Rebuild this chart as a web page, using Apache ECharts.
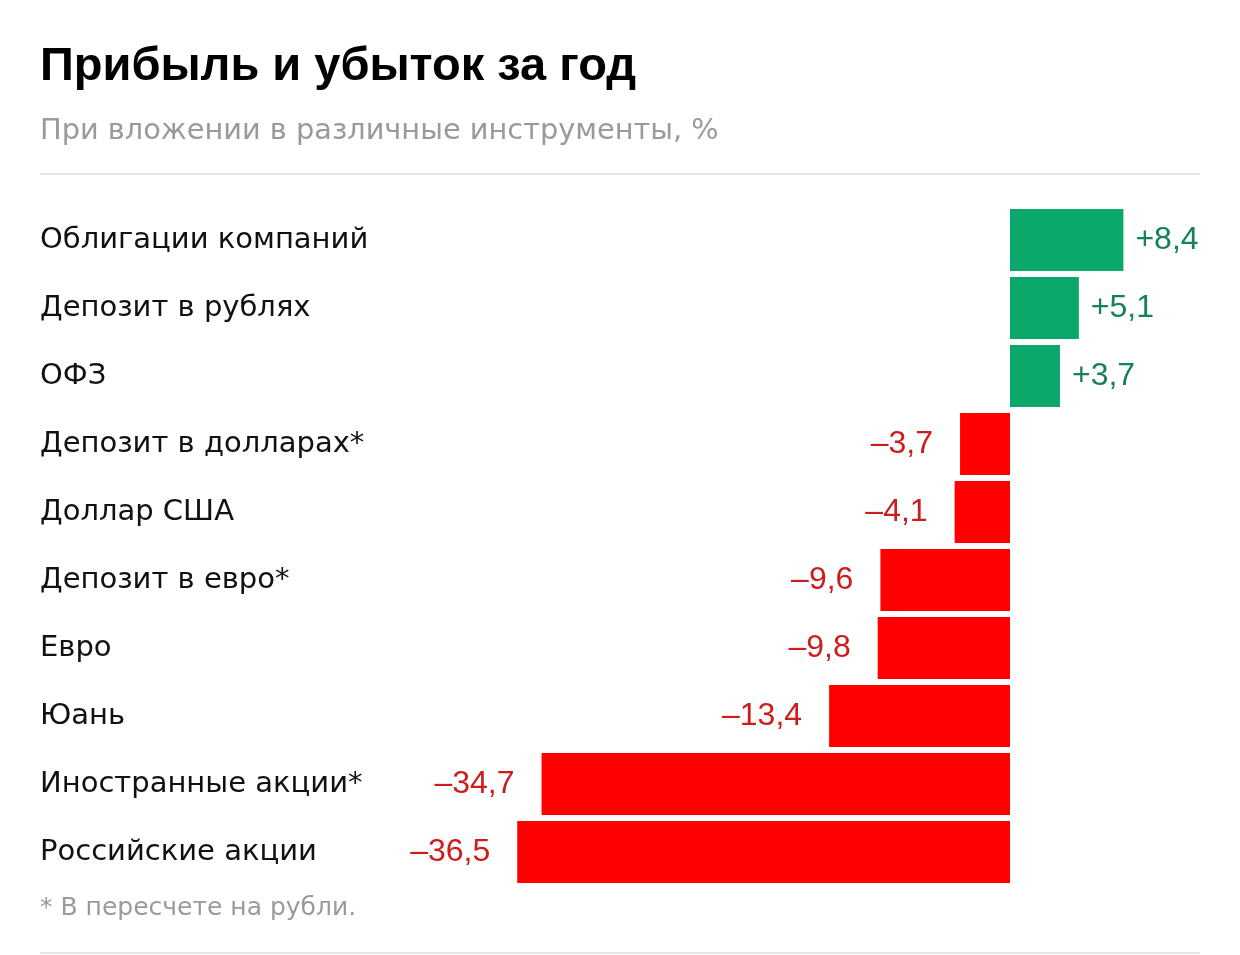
<!DOCTYPE html>
<html><head><meta charset="utf-8">
<script src="https://cdn.jsdelivr.net/npm/echarts@6/dist/echarts.min.js"></script>
<style>html,body{margin:0;padding:0;background:#fff}#c{width:1240px;height:955px}</style>
</head><body><div id="c"></div>
<script>
const categories = ['Облигации компаний','Депозит в рублях','ОФЗ','Депозит в долларах*','Доллар США','Депозит в евро*','Евро','Юань','Иностранные акции*','Российские акции'];
const values = [8.4, 5.1, 3.7, -3.7, -4.1, -9.6, -9.8, -13.4, -34.7, -36.5];
const titleText = 'Прибыль и убыток за год';
const subtitleText = 'При вложении в различные инструменты, %';
const footnoteText = '* В пересчете на рубли.';

const FONT = '"DejaVu Sans", "Liberation Sans", sans-serif';
const NFONT = '"Liberation Sans", Arial, sans-serif';
const chart = echarts.init(document.getElementById('c'), null, {renderer:'canvas'});
const fmt = v => (v > 0 ? '+' : '–') + Math.abs(v).toFixed(1).replace('.', ',');

chart.setOption({
  animation: false,
  backgroundColor: '#fff',
  title: [
    {text: titleText, left: 40, top: 44, padding: 0, textStyle:{fontFamily: NFONT, fontWeight: 'bold', fontSize: 47, color:'#000'}},
    {text: subtitleText, left: 40, top: 117, padding: 0, textStyle:{fontFamily: FONT, fontWeight: 'normal', fontSize: 28.8, color:'#9a9a9a'}},
    {text: footnoteText, left: 40, top: 896, padding: 0, textStyle:{fontFamily: FONT, fontWeight: 'normal', fontSize: 25, color:'#9a9a9a'}}
  ],
  graphic: [
    {type:'rect', shape:{x:40, y:173, width:1160, height:2}, style:{fill:'#e6e6e6'}},
    {type:'rect', shape:{x:40, y:952, width:1160, height:2}, style:{fill:'#e6e6e6'}}
  ],
  grid: {left: 470, right: 41, top: 206, bottom: 69},
  xAxis: {type:'value', min:-40, max:14, show:false},
  yAxis: {
    type:'category', data: categories, inverse:true,
    axisLine:{show:false, onZero:false}, axisTick:{show:false}, splitLine:{show:false},
    axisLabel:{align:'left', margin:430, fontFamily: FONT, fontSize: 29, color:'#111'}
  },
  series: [{
    type:'bar', barCategoryGap:'9%',
    data: values.map(v => ({
      value: v,
      itemStyle:{color: v > 0 ? '#0aa96b' : '#ff0000'},
      label:{show:true, position: v > 0 ? 'right' : 'left', distance: v > 0 ? 12 : 27,
             color: v > 0 ? '#16805a' : '#cc1c1c', fontFamily: NFONT, fontSize: 32,
             formatter: () => fmt(v)}
    }))
  }]
});
</script></body></html>
